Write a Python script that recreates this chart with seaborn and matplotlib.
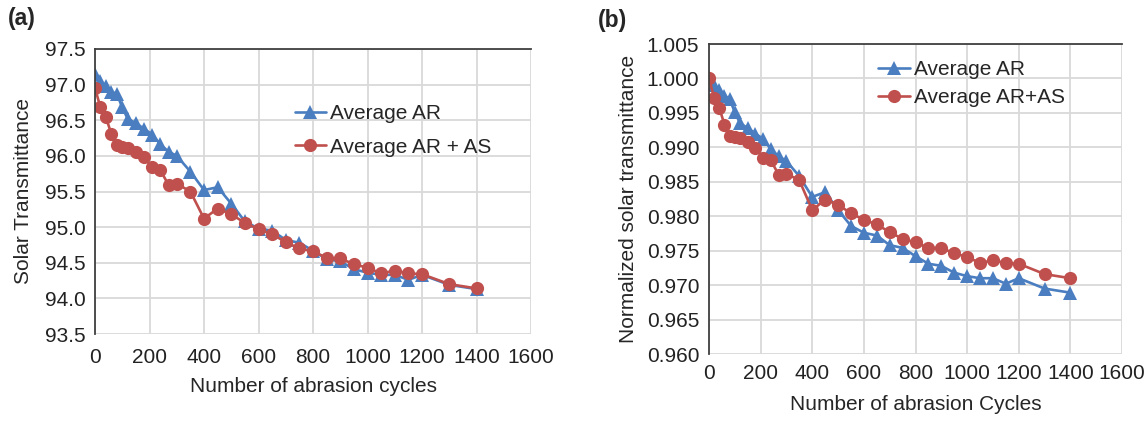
import matplotlib
matplotlib.use("Agg")
import matplotlib.pyplot as plt
import seaborn as sns
import pandas as pd

# Abrasion cycles at which transmittance was measured
cycles = [0, 20, 40, 60, 80, 100, 120, 150, 180, 210, 240, 270, 300, 350,
          400, 450, 500, 550, 600, 650, 700, 750, 800, 850, 900, 950, 1000,
          1050, 1100, 1150, 1200, 1300, 1400]

# Solar transmittance (%)
ar_abs = [97.15, 97.05, 96.98, 96.90, 96.87, 96.68, 96.52, 96.46, 96.38, 96.30,
          96.16, 96.06, 96.00, 95.78, 95.52, 95.56, 95.33, 95.08, 94.98, 94.95,
          94.82, 94.78, 94.67, 94.55, 94.52, 94.41, 94.36, 94.33, 94.33, 94.26,
          94.33, 94.19, 94.13]
aras_abs = [96.95, 96.68, 96.54, 96.31, 96.15, 96.13, 96.11, 96.06, 95.98, 95.84,
            95.80, 95.59, 95.61, 95.50, 95.12, 95.26, 95.18, 95.06, 94.97, 94.90,
            94.79, 94.70, 94.66, 94.57, 94.56, 94.48, 94.43, 94.35, 94.39, 94.35,
            94.34, 94.20, 94.14]

# Normalized solar transmittance
ar_norm = [1.000, 0.9990, 0.9983, 0.9975, 0.9970, 0.9951, 0.9935, 0.9928, 0.9920,
           0.9912, 0.9897, 0.9887, 0.9880, 0.9858, 0.9828, 0.9835, 0.9809, 0.9786,
           0.9776, 0.9772, 0.9758, 0.9754, 0.9742, 0.9731, 0.9728, 0.9718, 0.9713,
           0.9710, 0.9710, 0.9702, 0.9710, 0.9695, 0.9689]
aras_norm = [1.000, 0.9972, 0.9957, 0.9933, 0.9917, 0.9915, 0.9913, 0.9908, 0.9899,
             0.9885, 0.9881, 0.9860, 0.9862, 0.9852, 0.9809, 0.9824, 0.9817, 0.9804,
             0.9795, 0.9788, 0.9777, 0.9767, 0.9762, 0.9754, 0.9754, 0.9746, 0.9741,
             0.9732, 0.9736, 0.9732, 0.9731, 0.9716, 0.9710]

x_ticks = [0, 200, 400, 600, 800, 1000, 1200, 1400, 1600]
y_ticks_a = [93.5, 94.0, 94.5, 95.0, 95.5, 96.0, 96.5, 97.0, 97.5]
y_ticks_b = [0.960, 0.965, 0.970, 0.975, 0.980, 0.985, 0.990, 0.995, 1.000, 1.005]

BLUE = "#4A7EC0"
RED = "#C0504D"
FS = 15

sns.set_theme(style="whitegrid")
plt.rcParams["font.family"] = ["Liberation Sans", "DejaVu Sans"]

fig = plt.figure(figsize=(11.48, 4.22), dpi=100)
ax_a = fig.add_axes([95 / 1148, 1 - 334 / 422, 436 / 1148, 285 / 422])
ax_b = fig.add_axes([709 / 1148, 1 - 354 / 422, 413 / 1148, 310 / 422])

df_a = pd.DataFrame({"cycles": cycles, "ar": ar_abs, "aras": aras_abs})
df_b = pd.DataFrame({"cycles": cycles, "ar": ar_norm, "aras": aras_norm})

line_kw = dict(linewidth=1.9, markeredgewidth=0)


def draw(ax, df, label_ar, label_aras):
    sns.lineplot(data=df, x="cycles", y="ar", ax=ax, color=BLUE, marker="^",
                 markersize=10.5, label=label_ar, **line_kw)
    sns.lineplot(data=df, x="cycles", y="aras", ax=ax, color=RED, marker="o",
                 markersize=9.5, label=label_aras, **line_kw)
    ax.set_xlim(0, 1600)
    ax.set_xticks(x_ticks)
    ax.grid(True, color="#D9D9D9", linewidth=1.3)
    ax.tick_params(length=0, labelsize=FS, colors="#222222", pad=7)
    for side in ("right", "bottom"):
        ax.spines[side].set_visible(False)
    for side in ("left", "top"):
        ax.spines[side].set_color("#404040")
        ax.spines[side].set_linewidth(1.3)


draw(ax_a, df_a, "Average AR", "Average AR + AS")
ax_a.set_ylim(93.5, 97.5)
ax_a.set_yticks(y_ticks_a)
ax_a.set_yticklabels([f"{v:.1f}" for v in y_ticks_a])
ax_a.tick_params(axis="x", pad=10)
ax_a.set_xlabel("Number of abrasion cycles", fontsize=FS, labelpad=7)
ax_a.set_ylabel("Solar Transmittance", fontsize=FS, labelpad=8)
ax_a.legend(loc="center left", bbox_to_anchor=(0.415, 0.715), frameon=False,
            fontsize=FS, handlelength=1.5, handletextpad=0.2, labelspacing=0.7)

draw(ax_b, df_b, "Average AR", "Average AR+AS")
ax_b.set_ylim(0.960, 1.005)
ax_b.set_yticks(y_ticks_b)
ax_b.set_yticklabels([f"{v:.3f}" for v in y_ticks_b])
ax_b.set_xlabel("Number of abrasion Cycles", fontsize=FS, labelpad=9)
ax_b.set_ylabel("Normalized solar transmittance", fontsize=FS, labelpad=6)
ax_b.legend(loc="center left", bbox_to_anchor=(0.365, 0.872), frameon=False,
            fontsize=FS, handlelength=1.5, handletextpad=0.2, labelspacing=0.45)

fig.text(8 / 1148, 1 - 18 / 422, "(a)", fontsize=16.5, fontweight="bold", va="center")
fig.text(598 / 1148, 1 - 20 / 422, "(b)", fontsize=16.5, fontweight="bold", va="center")

fig.savefig("out.png", dpi=100, facecolor="white")
